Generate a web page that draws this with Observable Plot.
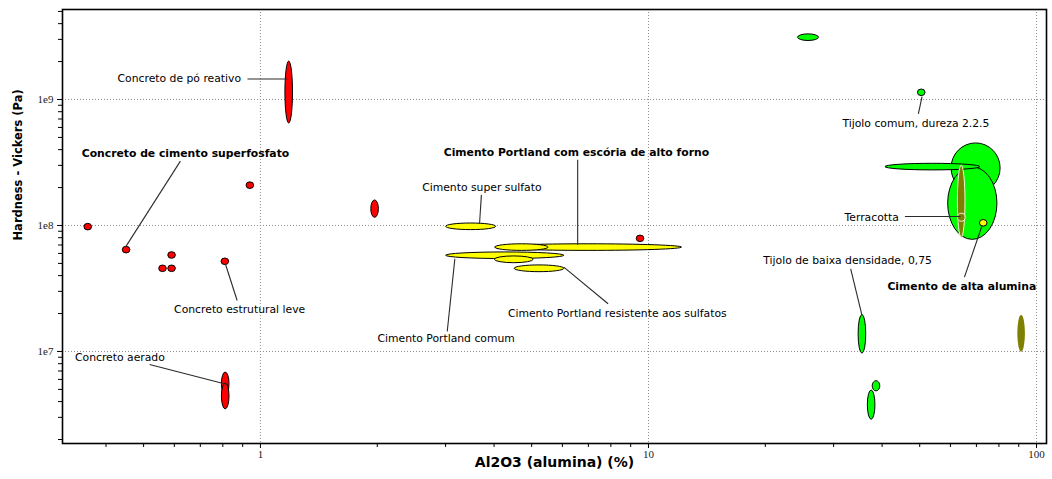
<!DOCTYPE html>
<html>
<head>
<meta charset="utf-8">
<script src="https://cdn.jsdelivr.net/npm/d3@7"></script>
<script src="https://cdn.jsdelivr.net/npm/@observablehq/plot@0.6"></script>
<style>
  html, body { margin: 0; padding: 0; background: #fff; }
  #chart svg { display: block; }
</style>
</head>
<body>
<div id="chart"></div>
<script>
// Material property ranges: Al2O3 content (%) and Vickers hardness (Pa).
// Point values use min = max and are drawn as small dots.
const names = [
  "Concreto de pó reativo", "Concreto (a)", "Concreto (b)", "Concreto (c)",
  "Concreto de cimento superfosfato", "Concreto (d)", "Concreto (e)", "Concreto (f)",
  "Concreto estrutural leve", "Concreto aerado (a)", "Concreto aerado (b)", "Concreto (g)",
  "Cimento Portland comum", "Cimento Portland com escória de alto forno", "Cimento Portland com escória (b)",
  "Cimento Portland (b)", "Cimento Portland resistente aos sulfatos", "Cimento super sulfato",
  "Tijolo (a)", "Tijolo comum, dureza 2.2.5", "Tijolo (b)", "Tijolo (c)", "Tijolo (d)",
  "Tijolo de baixa densidade, 0,75", "Tijolo (e)", "Tijolo (f)",
  "Terracotta", "Terracotta (b)", "Cerâmica (a)", "Cimento de alta alumina"
];
const family = [
  "concreto", "concreto", "concreto", "concreto", "concreto", "concreto", "concreto", "concreto",
  "concreto", "concreto", "concreto", "concreto",
  "cimento", "cimento", "cimento", "cimento", "cimento", "cimento",
  "tijolo", "tijolo", "tijolo", "tijolo", "tijolo", "tijolo", "tijolo", "tijolo",
  "terracotta", "terracotta", "terracotta", "cimento"
];
const aluminaMin = [
  1.162, 0.942, 1.94, 0.360, 0.452, 0.592, 0.561, 0.592, 0.812, 0.797, 0.797, 9.54,
  3.01, 4.03, 4.03, 4.02, 4.52, 3.01,
  24.3, 50.6, 60.4, 59.2, 40.8, 34.8, 37.9, 36.8,
  63.1, 63.2, 90.0, 73.1
];
const aluminaMax = [
  1.211, 0.942, 2.01, 0.360, 0.452, 0.592, 0.561, 0.592, 0.812, 0.831, 0.831, 9.54,
  6.07, 12.2, 5.53, 5.06, 6.07, 4.05,
  27.5, 50.6, 80.8, 79.3, 71.7, 36.4, 39.5, 38.4,
  65.2, 65.2, 93.1, 73.1
];
const hardnessMin = [
  6.45e8, 2.07e8, 1.15e8, 9.7e7, 6.37e7, 5.78e7, 4.53e7, 4.53e7, 5.15e7, 4.48e6, 3.47e6, 7.83e7,
  5.45e7, 6.34e7, 6.34e7, 5.02e7, 4.26e7, 9.25e7,
  2.92e9, 1.13e9, 1.80e8, 7.69e7, 2.77e8, 9.6e6, 4.82e6, 2.87e6,
  7.98e7, 1.07e8, 9.86e6, 1.04e8
];
const hardnessMax = [
  2.0e9, 2.07e8, 1.58e8, 9.7e7, 6.37e7, 5.78e7, 4.53e7, 4.53e7, 5.15e7, 6.8e6, 5.57e6, 7.83e7,
  6.07e7, 7.03e7, 7.03e7, 5.68e7, 4.82e7, 1.03e8,
  3.28e9, 1.13e9, 4.48e8, 2.89e8, 3.05e8, 1.95e7, 5.81e6, 4.90e6,
  2.99e8, 1.24e8, 1.93e7, 1.04e8
];

// Annotation labels (text centre, data coordinates) and their leader lines.
const labelText = [
  "Concreto de pó reativo", "Concreto de cimento superfosfato", "Concreto estrutural leve",
  "Concreto aerado", "Cimento super sulfato", "Cimento Portland com escória de alto forno",
  "Cimento Portland resistente aos sulfatos", "Cimento Portland comum", "Tijolo comum, dureza 2.2.5",
  "Terracotta", "Tijolo de baixa densidade, 0,75", "Cimento de alta alumina"
];
const labelBold = [false, true, false, false, false, true, false, false, false, false, false, true];
const labelX = [0.618, 0.641, 0.884, 0.4344, 3.72, 6.52, 8.31, 3.01, 48.9, 37.6, 32.6, 64.2];
const labelY = [1.468e9, 3.75e8, 2.15e7, 9.02e6, 2.01e8, 3.82e8, 2.01e7, 1.27e7, 6.48e8, 1.164e8, 5.27e7, 3.28e7];
const leaderX1 = [0.926, 0.622, 0.871, 0.518, 3.71, 6.57, 7.87, 3.03, 49.6, 45.8, 33.2, 65.2];
const leaderY1 = [1.455e9, 3.24e8, 2.54e7, 7.89e6, 1.75e8, 3.32e8, 2.39e7, 1.44e7, 7.70e8, 1.179e8, 4.53e7, 3.89e7];
const leaderX2 = [1.174, 0.449, 0.812, 0.821, 3.67, 6.57, 6.05, 3.17, 50.7, 63.7, 35.5, 72.4];
const leaderY2 = [1.455e9, 6.73e7, 4.97e7, 5.47e6, 1.03e8, 7.03e7, 4.67e7, 5.44e7, 1.056e9, 1.179e8, 1.93e7, 1.0e8];

// Axis ticks
const xMajor = [1, 10, 100];
const xMinor = [0.4, 0.5, 0.6, 0.7, 0.8, 0.9, 2, 3, 4, 5, 6, 7, 8, 9, 20, 30, 40, 50, 60, 70, 80, 90];
const yMajor = [1e7, 1e8, 1e9];
const yMinor = [2e6, 3e6, 4e6, 5e6, 6e6, 7e6, 8e6, 9e6, 2e7, 3e7, 4e7, 5e7, 6e7, 7e7, 8e7, 9e7,
                2e8, 3e8, 4e8, 5e8, 6e8, 7e8, 8e8, 9e8, 2e9, 3e9, 4e9, 5e9];

const xTitle = "Al2O3 (alumina) (%)";
const yTitle = "Hardness - Vickers (Pa)";

const materials = names.map((name, i) => ({
  name, family: family[i],
  x1: aluminaMin[i], x2: aluminaMax[i], y1: hardnessMin[i], y2: hardnessMax[i]
}));
const labels = labelText.map((text, i) => ({ text, bold: labelBold[i], x: labelX[i], y: labelY[i] }));
const leaders = labelText.map((text, i) => ({ x1: leaderX1[i], y1: leaderY1[i], x2: leaderX2[i], y2: leaderY2[i] }));

const fill = { concreto: "#ff0000", cimento: "#ffff00", tijolo: "#00ff00", terracotta: "#808000" };
const stroke = { concreto: "#000", cimento: "#000", tijolo: "#000", terracotta: "#f4f4dc" };

// Property bubbles: one axis-aligned ellipse per material spanning its ranges.
function bubbles(index, scales) {
  const g = d3.create("svg:g");
  for (const m of materials) {
    const xa = scales.x(m.x1), xb = scales.x(m.x2);
    const ya = scales.y(m.y2), yb = scales.y(m.y1);
    const rx = Math.max((xb - xa) / 2, 3.8);
    const ry = Math.max((yb - ya) / 2, 3.3);
    const farRight = m.family === "terracotta" && m.x1 > 80;
    g.append("ellipse")
      .attr("cx", (xa + xb) / 2)
      .attr("cy", (ya + yb) / 2)
      .attr("rx", rx)
      .attr("ry", ry)
      .attr("fill", fill[m.family])
      .attr("stroke", farRight ? "none" : stroke[m.family])
      .attr("stroke-width", 1);
  }
  return g.node();
}

const chart = Plot.plot({
  width: 1052,
  height: 479,
  marginLeft: 62,
  marginRight: 6,
  marginTop: 9,
  marginBottom: 36,
  style: { fontFamily: "DejaVu Sans", fontSize: "10.8px", background: "#fff", color: "#000" },
  x: { type: "log", domain: [0.309, 106.1] },
  y: { type: "log", domain: [1.86e6, 5.18e9] },
  marks: [
    Plot.ruleX(xMajor, { stroke: "#8c8c8c", strokeDasharray: "1,2" }),
    Plot.ruleY(yMajor, { stroke: "#8c8c8c", strokeDasharray: "1,2" }),
    Plot.axisX(xMinor, { tickSize: 4, tickFormat: () => "", label: null }),
    Plot.axisX(xMajor, { tickSize: 5, tickPadding: 2, tickFormat: d => String(d), label: null,
                         fontFamily: "Liberation Serif", fontSize: 11, fill: "#222" }),
    Plot.axisY(yMinor, { tickSize: 4, tickFormat: () => "", label: null }),
    Plot.axisY(yMajor, { tickSize: 5, tickPadding: 4, tickFormat: d => "1e" + Math.round(Math.log10(d)), label: null,
                         fontFamily: "Liberation Serif", fontSize: 11, fill: "#222" }),
    bubbles,
    Plot.link(leaders, { x1: "x1", y1: "y1", x2: "x2", y2: "y2", stroke: "#2a2a2a", strokeWidth: 1.1 }),
    Plot.text(labels.filter(d => !d.bold), { x: "x", y: "y", text: "text", fill: "#000" }),
    Plot.text(labels.filter(d => d.bold), { x: "x", y: "y", text: "text", fill: "#000", fontWeight: "bold" }),
    Plot.frame({ stroke: "#000", strokeWidth: 1.6 }),
    Plot.text([xTitle], { frameAnchor: "bottom", dy: 23, text: d => d, fontWeight: "bold", fontSize: 14 }),
    Plot.text([yTitle], { frameAnchor: "left", dx: -44, dy: 14, rotate: -90, text: d => d, fontWeight: "bold", fontSize: 11.5 })
  ]
});

document.getElementById("chart").appendChild(chart);
</script>
</body>
</html>
